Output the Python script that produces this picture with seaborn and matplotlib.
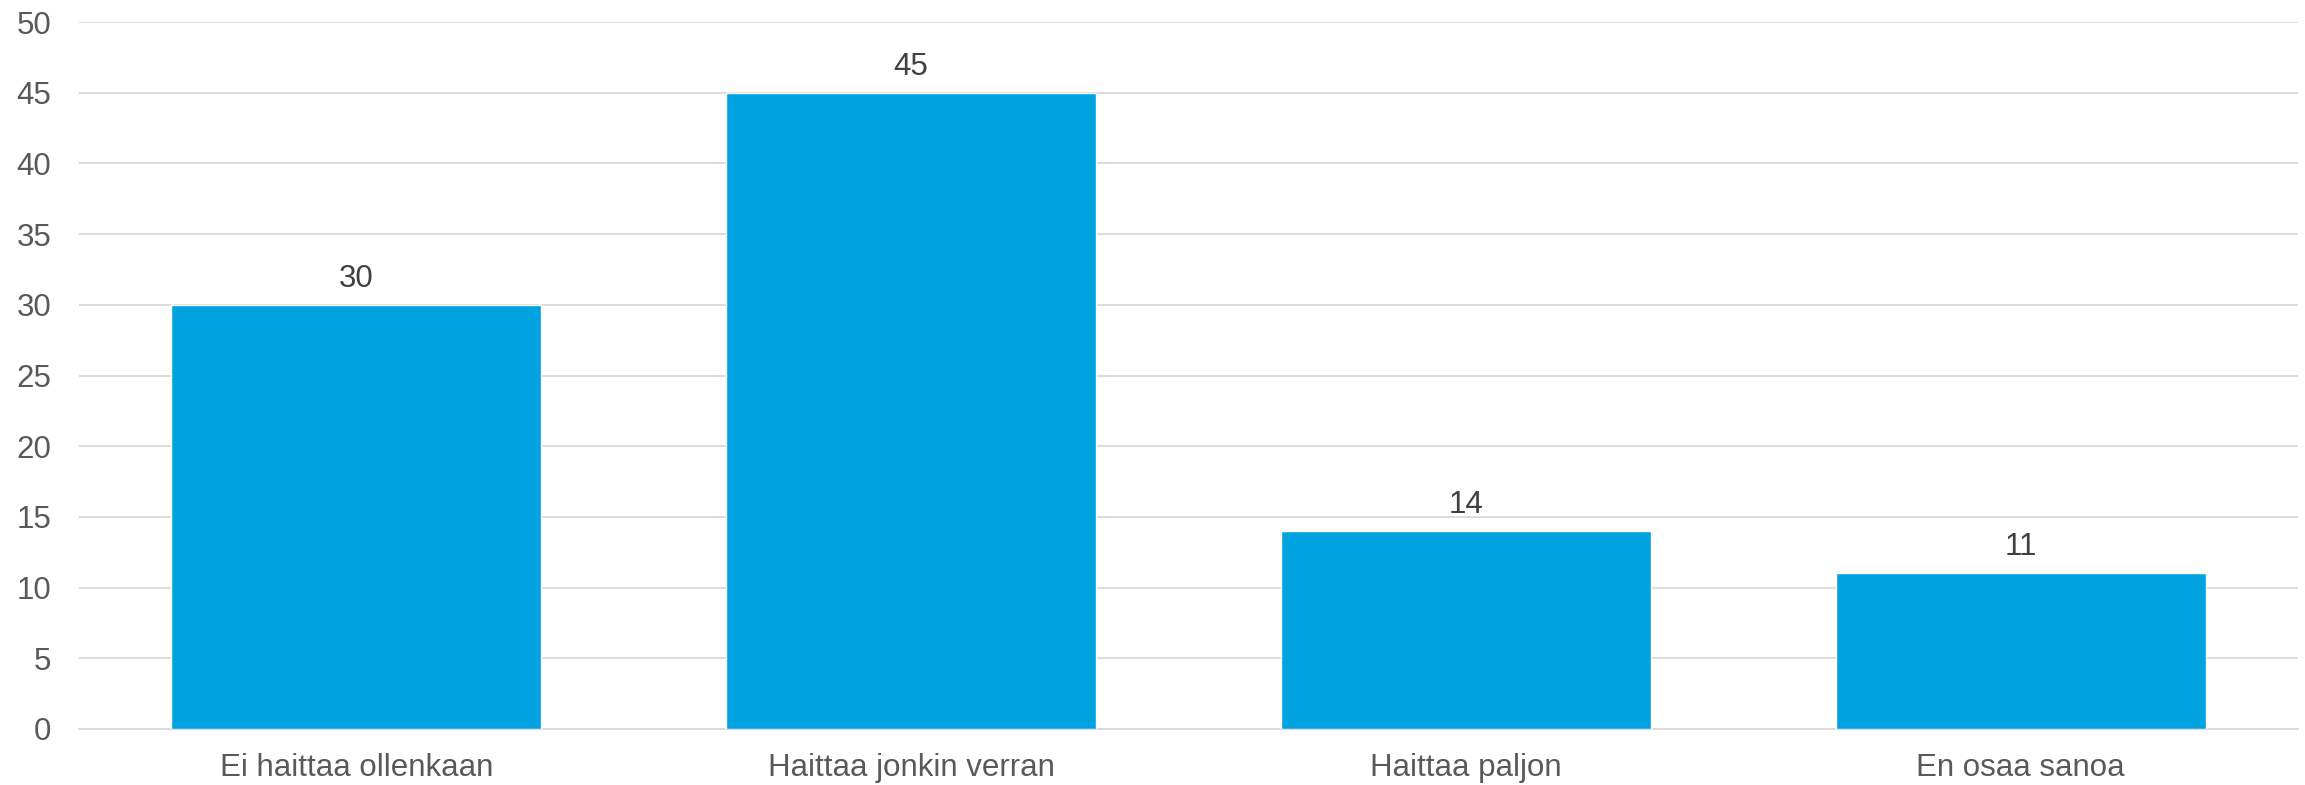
import matplotlib
matplotlib.use("Agg")
import matplotlib.pyplot as plt
import seaborn as sns
import pandas as pd

categories = ["Ei haittaa ollenkaan", "Haittaa jonkin verran", "Haittaa paljon", "En osaa sanoa"]
values = [30, 45, 14, 11]
yticks = [0, 5, 10, 15, 20, 25, 30, 35, 40, 45, 50]

sns.set_theme(style="white")
plt.rcParams['font.family'] = ['Liberation Sans', 'DejaVu Sans']

TEXT = "#595959"
GRID = "#D9D9D9"
BAR = "#00A2E0"

df = pd.DataFrame({"cat": categories, "val": values})

fig = plt.figure(figsize=(23.05, 7.85), dpi=100)
ax = fig.add_axes([79/2305, 1-729/785, (2298-79)/2305, (729-22)/785])

sns.barplot(data=df, x="cat", y="val", color=BAR, width=0.667, saturation=1, ax=ax, zorder=3)

ax.set_ylim(0, 50)
ax.set_xlim(-0.5, len(categories)-0.5)
ax.set_yticks(yticks)
ax.set_yticklabels([str(t) for t in yticks])
ax.yaxis.grid(True, color=GRID, linewidth=1.3, zorder=0)
ax.set_axisbelow(True)
for s in ["top", "right", "left"]:
    ax.spines[s].set_visible(False)
ax.spines["bottom"].set_color(GRID)
ax.spines["bottom"].set_linewidth(1.3)
ax.tick_params(axis="y", length=0, pad=20, labelsize=22.5, labelcolor=TEXT)
ax.tick_params(axis="x", length=0, pad=17, labelsize=22.5, labelcolor=TEXT)
ax.set_xlabel("")
ax.set_ylabel("")

for c in ax.containers:
    ax.bar_label(c, labels=[str(v) for v in values], padding=8, fontsize=22.5, color="#404040")

fig.savefig("out.png", dpi=100)
